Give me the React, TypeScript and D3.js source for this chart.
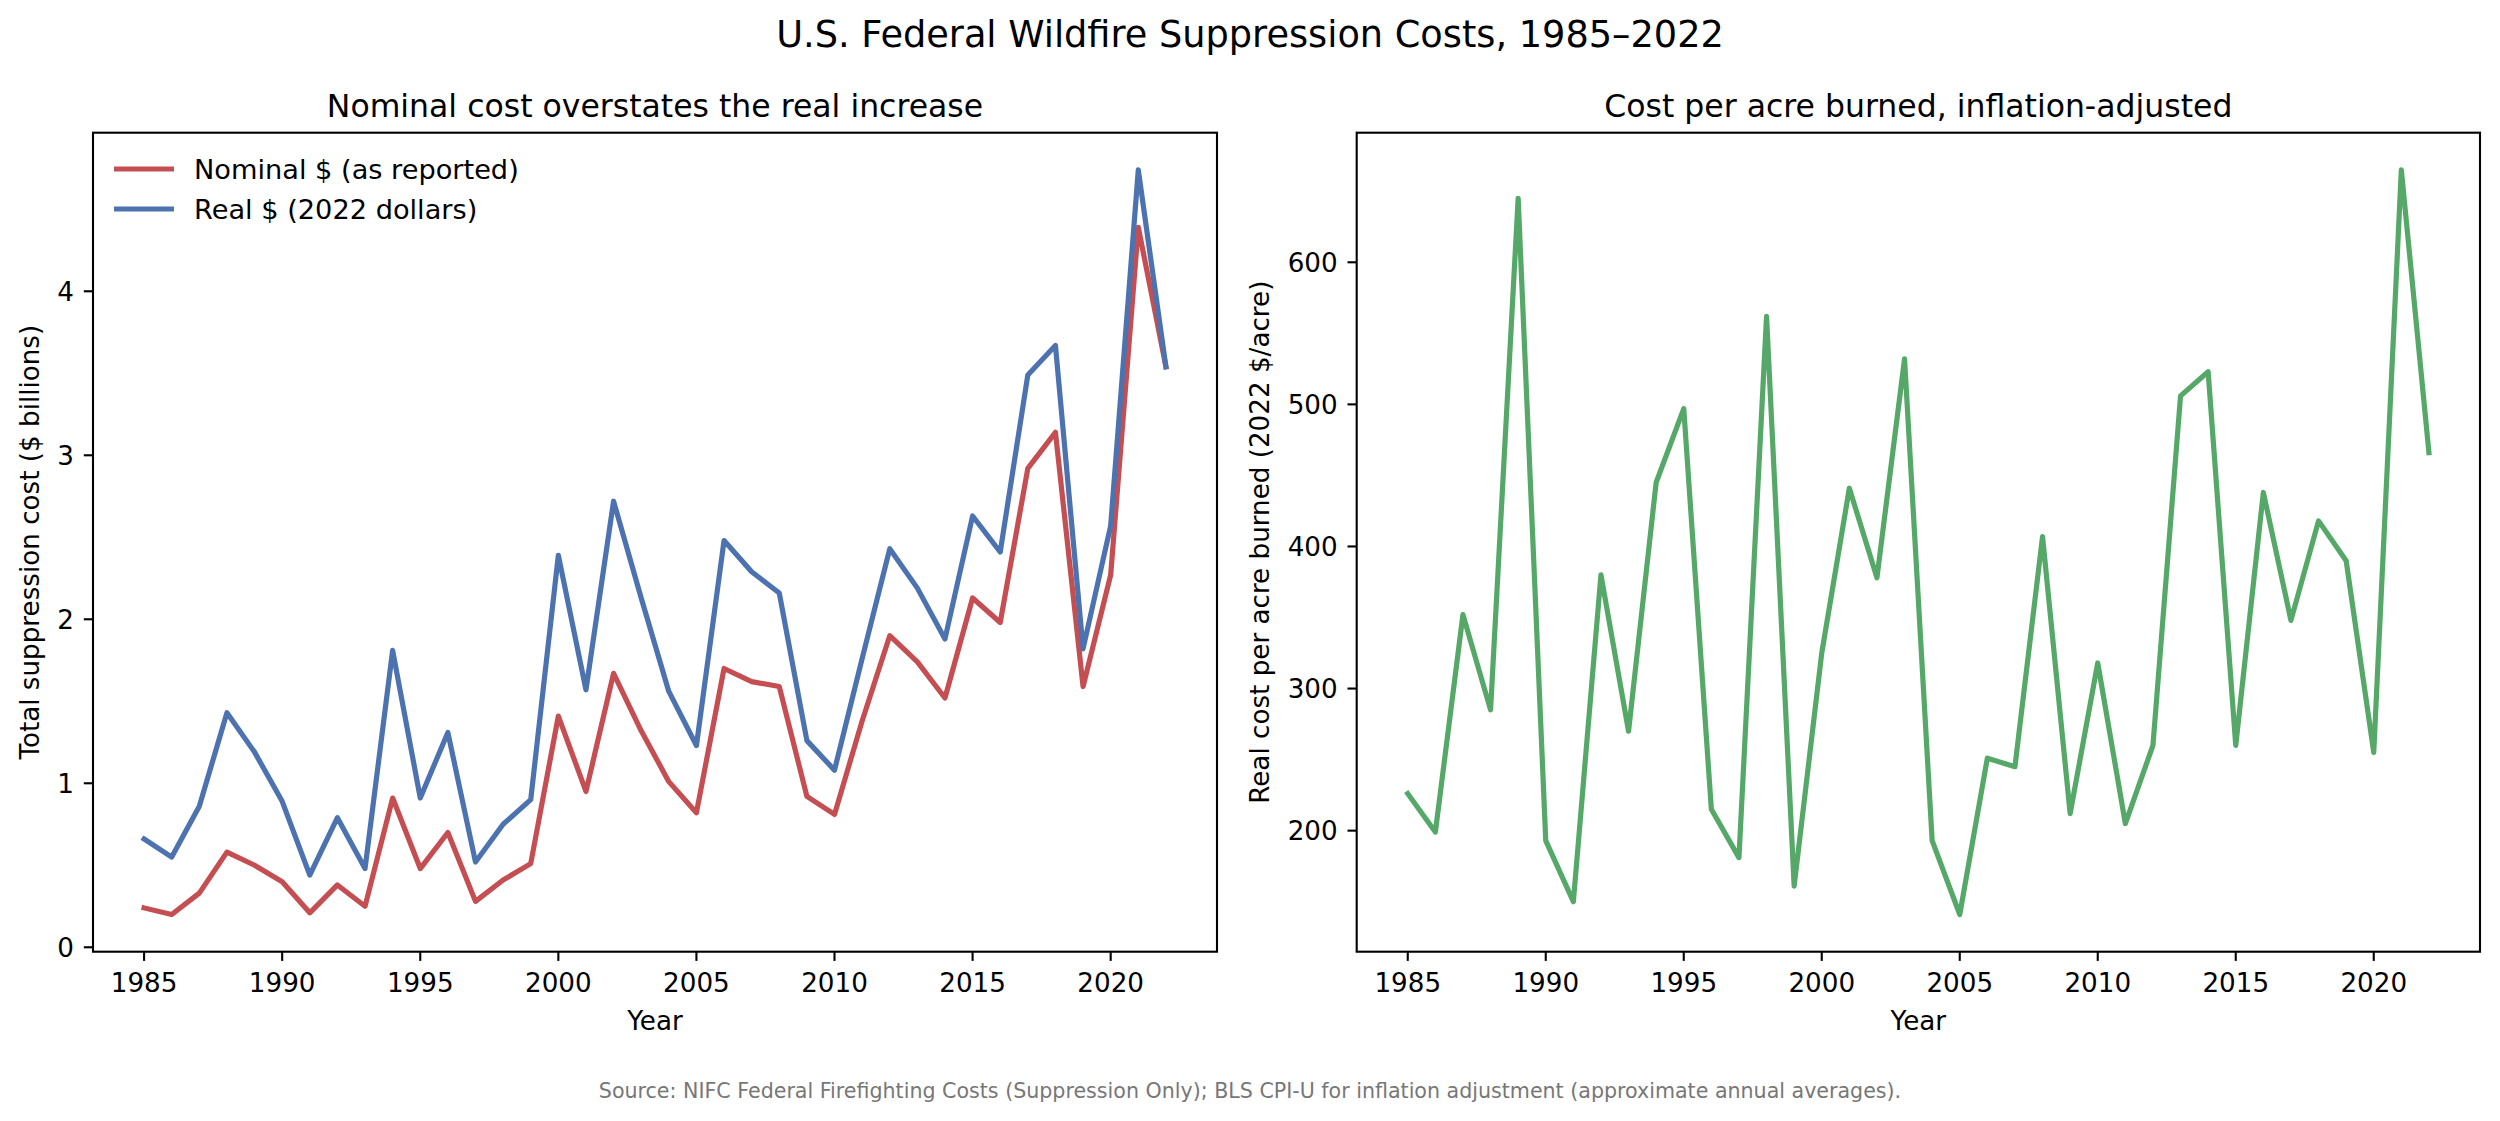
import * as d3 from "d3";

const years = d3.range(1985, 2023);

// $ billions, as reported
const nominal = [
  0.24, 0.2, 0.33, 0.58, 0.5, 0.4, 0.21, 0.38, 0.25, 0.91,
  0.48, 0.7, 0.28, 0.41, 0.51, 1.41, 0.95, 1.67, 1.32, 1.01,
  0.82, 1.7, 1.62, 1.59, 0.92, 0.81, 1.38, 1.9, 1.74, 1.52,
  2.13, 1.98, 2.92, 3.14, 1.59, 2.27, 4.39, 3.54,
];

// $ billions, 2022 dollars
const real = [
  0.66, 0.55, 0.86, 1.43, 1.19, 0.89, 0.44, 0.79, 0.48, 1.81,
  0.91, 1.31, 0.52, 0.75, 0.9, 2.39, 1.57, 2.72, 2.13, 1.56,
  1.23, 2.48, 2.29, 2.16, 1.26, 1.08, 1.76, 2.43, 2.19, 1.88,
  2.63, 2.41, 3.49, 3.67, 1.82, 2.57, 4.74, 3.54,
];

// 2022 $ per acre burned
const perAcre = [
  226, 199, 352, 285, 645, 193, 150, 380, 270, 445,
  497, 215, 181, 562, 161, 325, 441, 378, 532, 193,
  141, 251, 245, 407, 212, 318, 205, 260, 506, 523,
  260, 438, 348, 418, 390, 255, 665, 466,
];

const xTicks = [1985, 1990, 1995, 2000, 2005, 2010, 2015, 2020];
const leftTicks = [0, 1, 2, 3, 4];
const rightTicks = [200, 300, 400, 500, 600];

const W = 2500;
const H = 1121;
const FONT = "DejaVu Sans, sans-serif";
const RED = "#C44E52";
const BLUE = "#4C72B0";
const GREEN = "#55A868";

const TOP = 132.7;
const BOTTOM = 951.7;
const TICK = 9.2;
const LW = 5.2;

// matplotlib-style 5% padding
function padded(vals: number[]): [number, number] {
  const [lo, hi] = d3.extent(vals) as [number, number];
  const p = (hi - lo) * 0.05;
  return [lo - p, hi + p];
}

interface Series {
  values: number[];
  color: string;
  label?: string;
}

interface PanelProps {
  x0: number;
  x1: number;
  title: string;
  ylabel: string;
  ylabelX: number;
  yTicks: number[];
  series: Series[];
  legend?: boolean;
}

function Panel({ x0, x1, title, ylabel, ylabelX, yTicks, series, legend }: PanelProps) {
  const x = d3.scaleLinear().domain(padded(years)).range([x0, x1]);
  const y = d3
    .scaleLinear()
    .domain(padded(series.flatMap((s) => s.values)))
    .range([BOTTOM, TOP]);

  const line = d3
    .line<number>()
    .x((_, i) => x(years[i]))
    .y((d) => y(d));

  const midY = (TOP + BOTTOM) / 2;

  return (
    <g fontFamily={FONT}>
      {series.map((s, i) => (
        <path
          key={i}
          d={line(s.values) ?? ""}
          fill="none"
          stroke={s.color}
          strokeWidth={LW}
          strokeLinejoin="round"
          strokeLinecap="square"
        />
      ))}

      <rect x={x0} y={TOP} width={x1 - x0} height={BOTTOM - TOP} fill="none" stroke="#000" strokeWidth={2.1} />

      {xTicks.map((t) => (
        <g key={t}>
          <line x1={x(t)} x2={x(t)} y1={BOTTOM} y2={BOTTOM + TICK} stroke="#000" strokeWidth={2.1} />
          <text x={x(t)} y={992} textAnchor="middle" fontSize={26.2}>
            {t}
          </text>
        </g>
      ))}

      {yTicks.map((t) => (
        <g key={t}>
          <line x1={x0 - TICK} x2={x0} y1={y(t)} y2={y(t)} stroke="#000" strokeWidth={2.1} />
          <text x={x0 - 19} y={y(t)} dy="0.36em" textAnchor="end" fontSize={26.2}>
            {t}
          </text>
        </g>
      ))}

      <text x={(x0 + x1) / 2} y={1030} textAnchor="middle" fontSize={26.2}>
        Year
      </text>
      <text
        transform={`translate(${ylabelX},${midY}) rotate(-90)`}
        textAnchor="middle"
        dy="0.36em"
        fontSize={26.2}
      >
        {ylabel}
      </text>
      <text x={(x0 + x1) / 2} y={117} textAnchor="middle" fontSize={31.5}>
        {title}
      </text>

      {legend &&
        series.map((s, i) => (
          <g key={"lg" + i}>
            <line
              x1={x0 + 21}
              x2={x0 + 81}
              y1={169 + i * 40}
              y2={169 + i * 40}
              stroke={s.color}
              strokeWidth={LW}
            />
            <text x={x0 + 101} y={169 + i * 40} dy="0.36em" fontSize={27.2}>
              {s.label}
            </text>
          </g>
        ))}
    </g>
  );
}

export default function App() {
  return (
    <div style={{ position: "absolute", left: 0, top: 0 }}>
      <svg width={W} height={H} viewBox={`0 0 ${W} ${H}`} style={{ display: "block", background: "#fff" }}>
        <rect width={W} height={H} fill="#fff" />
        <text x={W / 2} y={47} textAnchor="middle" fontFamily={FONT} fontSize={36.7}>
          U.S. Federal Wildfire Suppression Costs, 1985–2022
        </text>

        <Panel
          x0={93}
          x1={1217}
          title="Nominal cost overstates the real increase"
          ylabel="Total suppression cost ($ billions)"
          ylabelX={30}
          yTicks={leftTicks}
          legend
          series={[
            { values: nominal, color: RED, label: "Nominal $ (as reported)" },
            { values: real, color: BLUE, label: "Real $ (2022 dollars)" },
          ]}
        />

        <Panel
          x0={1356.7}
          x1={2480}
          title="Cost per acre burned, inflation-adjusted"
          ylabel="Real cost per acre burned (2022 $/acre)"
          ylabelX={1260}
          yTicks={rightTicks}
          series={[{ values: perAcre, color: GREEN }]}
        />

        <text x={W / 2} y={1098} textAnchor="middle" fontFamily={FONT} fontSize={20.6} fill="#777">
          Source: NIFC Federal Firefighting Costs (Suppression Only); BLS CPI-U for inflation adjustment (approximate annual averages).
        </text>
      </svg>
    </div>
  );
}
